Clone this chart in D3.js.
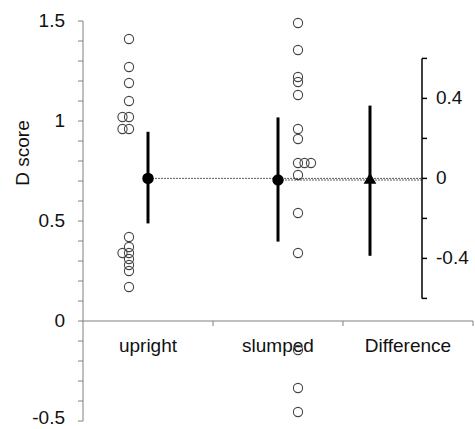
<!DOCTYPE html>
<html>
<head>
<meta charset="utf-8">
<script src="https://cdn.jsdelivr.net/npm/d3@7/dist/d3.min.js"></script>
<style>
  html, body { margin: 0; padding: 0; background: #fff; }
  svg { display: block; font-family: "Liberation Sans", Arial, sans-serif; }
</style>
</head>
<body>
<svg id="chart" width="475" height="429"></svg>
<script>
// ---- data ----
const categories = ["upright", "slumped", "Difference"];
const uprightValues = [1.41, 1.27, 1.19, 1.10, 1.02, 1.02, 0.96, 0.96, 0.42, 0.37, 0.34, 0.34, 0.31, 0.28, 0.25, 0.17];
const slumpedValues = [1.49, 1.355, 1.22, 1.195, 1.13, 0.96, 0.91, 0.79, 0.79, 0.79, 0.73, 0.54, 0.34, -0.145, -0.335, -0.455];
const groupMeans = [0.713, 0.705];
const groupCILow = [0.488, 0.397];
const groupCIHigh = [0.946, 1.018];
const diffMean = -0.008;
const diffCILow = -0.387;
const diffCIHigh = 0.364;
const leftTicks = [-0.5, 0, 0.5, 1, 1.5];
const leftTickLabels = ["-0.5", "0", "0.5", "1", "1.5"];
const rightTicks = [-0.6, -0.4, -0.2, 0, 0.2, 0.4, 0.6];
const rightTickLabels = ["", "-0.4", "", "0", "", "0.4", ""];

// ---- layout ----
const svg = d3.select("#chart");
const axisX = 83, plotTop = 21, plotBottom = 421, plotRight = 473;
const FONT = 19;

const y = d3.scaleLinear().domain([-0.5, 1.5]).range([plotBottom, plotTop]);
const x = d3.scaleBand().domain(categories).range([axisX, plotRight]).padding(0);
const cx = c => x(c) + x.bandwidth() / 2;

// right (difference) axis, zero aligned with upright mean
const yR = d3.scaleLinear()
  .domain([-0.6, 0.6])
  .range([y(groupMeans[0] - 0.6), y(groupMeans[0] + 0.6)]);

// left axis
const minorTicks = d3.range(-5, 16).map(i => i / 10);
const gL = svg.append("g");
gL.append("line").attr("x1", axisX).attr("x2", axisX).attr("y1", y(1.5)).attr("y2", y(-0.5))
  .attr("stroke", "#808080").attr("stroke-width", 1);
gL.selectAll("line.t").data(minorTicks).join("line").attr("class", "t")
  .attr("x1", axisX - 5).attr("x2", axisX).attr("y1", d => y(d)).attr("y2", d => y(d))
  .attr("stroke", "#808080").attr("stroke-width", 1);
gL.selectAll("text").data(leftTicks).join("text")
  .attr("x", axisX - 18).attr("y", d => y(d)).attr("dy", (d, i) => i === 0 ? "0.18em" : "0.32em")
  .attr("text-anchor", "end").attr("font-size", FONT).attr("fill", "#111")
  .text((d, i) => leftTickLabels[i]);
svg.append("text")
  .attr("transform", `translate(29,153) rotate(-90)`)
  .attr("text-anchor", "middle").attr("font-size", FONT).attr("fill", "#111")
  .text("D score");

// x axis at zero
const gX = svg.append("g");
gX.append("line").attr("x1", axisX).attr("x2", plotRight).attr("y1", y(0)).attr("y2", y(0))
  .attr("stroke", "#808080").attr("stroke-width", 1);
gX.selectAll("line.t").data(categories).join("line").attr("class", "t")
  .attr("x1", d => x(d) + x.bandwidth()).attr("x2", d => x(d) + x.bandwidth())
  .attr("y1", y(0)).attr("y2", y(0) + 5)
  .attr("stroke", "#808080").attr("stroke-width", 1);
gX.selectAll("text").data(categories).join("text")
  .attr("x", d => cx(d)).attr("y", y(0) + 31)
  .attr("text-anchor", "middle").attr("font-size", FONT).attr("fill", "#111")
  .text(d => d);

// raw points with offsets for exact duplicates
function drawPoints(values, xBase, dir) {
  const seen = {};
  const pts = values.map(v => {
    const k = v.toFixed(3);
    const n = seen[k] || 0; seen[k] = n + 1;
    return { v, off: n * 6.5 * dir };
  });
  svg.append("g").selectAll("circle").data(pts).join("circle")
    .attr("cx", d => xBase + d.off).attr("cy", d => y(d.v)).attr("r", 4.6)
    .attr("fill", "none").attr("stroke", "#444").attr("stroke-width", 1.1);
}
drawPoints(uprightValues, cx("upright") - 19, -1);
drawPoints(slumpedValues, cx("slumped") + 20, 1);

const rightAxisX = cx("Difference") + 14;
const diffX = cx("Difference") - 38;

// dotted reference lines from means to the difference axis
[0, 1].forEach(i => {
  svg.append("line")
    .attr("x1", cx(categories[i]) + 1).attr("x2", rightAxisX)
    .attr("y1", y(groupMeans[i])).attr("y2", y(groupMeans[i]))
    .attr("stroke", "#333").attr("stroke-width", 0.8).attr("stroke-dasharray", "2,1");
});

// group means with CI
[0, 1].forEach(i => {
  const c = cx(categories[i]);
  svg.append("line").attr("x1", c).attr("x2", c)
    .attr("y1", y(groupCILow[i])).attr("y2", y(groupCIHigh[i]))
    .attr("stroke", "#000").attr("stroke-width", 3);
  svg.append("circle").attr("cx", c).attr("cy", y(groupMeans[i])).attr("r", 5.7).attr("fill", "#000");
});

// difference
svg.append("line").attr("x1", diffX).attr("x2", diffX)
  .attr("y1", yR(diffCILow)).attr("y2", yR(diffCIHigh))
  .attr("stroke", "#000").attr("stroke-width", 3);
svg.append("path")
  .attr("d", d3.symbol().type(d3.symbolTriangle).size(70)())
  .attr("transform", `translate(${diffX},${yR(diffMean)})`)
  .attr("fill", "#000");

// right axis
const gR = svg.append("g");
gR.append("line").attr("x1", rightAxisX).attr("x2", rightAxisX)
  .attr("y1", yR(0.6)).attr("y2", yR(-0.6))
  .attr("stroke", "#000").attr("stroke-width", 1.5);
gR.selectAll("line.t").data(rightTicks).join("line").attr("class", "t")
  .attr("x1", rightAxisX).attr("x2", rightAxisX + 5)
  .attr("y1", d => yR(d)).attr("y2", d => yR(d))
  .attr("stroke", "#000").attr("stroke-width", 1.5);
gR.selectAll("text").data(rightTicks).join("text")
  .attr("x", rightAxisX + 14).attr("y", d => yR(d)).attr("dy", "0.32em")
  .attr("text-anchor", "start").attr("font-size", FONT).attr("fill", "#111")
  .text((d, i) => rightTickLabels[i]);
</script>
</body>
</html>
